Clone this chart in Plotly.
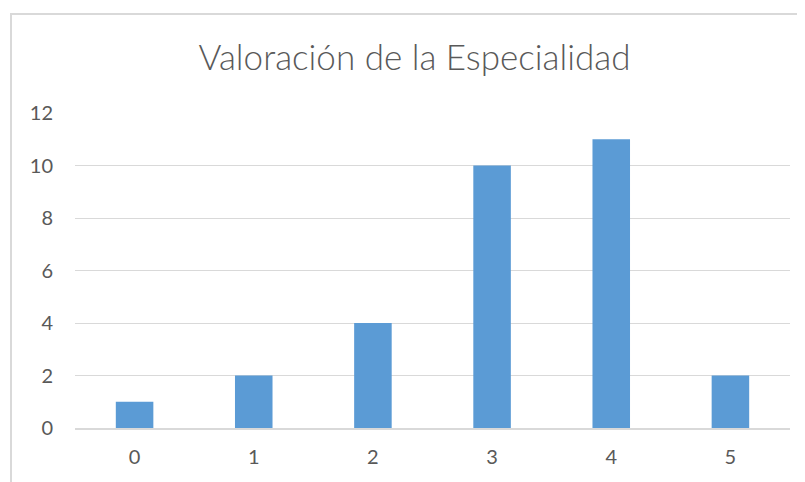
import plotly.graph_objects as go

categories = ["0", "1", "2", "3", "4", "5"]
values = [1, 2, 4, 10, 11, 2]
y_ticks = [0, 2, 4, 6, 8, 10, 12]
title_text = "Valoración de la Especialidad"

W, H = 805, 482
OFF = 8  # page body margin offset
L, T = 75 - OFF, 113 - OFF
pw, ph = 715, 315
R = W - L - pw
B = H - T - ph

def px_x(x):
    return (x - OFF - L) / pw

def px_y(y):
    return (T + ph - (y - OFF)) / ph

fig = go.Figure()
fig.add_trace(go.Bar(x=categories, y=values, marker=dict(color="#5B9BD5", line=dict(width=0))))

fig.update_layout(
    width=W, height=H,
    margin=dict(l=L, r=R, t=T, b=B, autoexpand=False),
    paper_bgcolor="white", plot_bgcolor="white",
    bargap=0.685,
    showlegend=False,
    font=dict(family="Lato, Carlito, sans-serif", color="#595959"),
    title=dict(text=title_text, x=(414.5 - OFF) / W, xanchor="center", y=1 - (58 - OFF) / H, yanchor="middle",
               automargin=False,
               font=dict(size=35, color="#595959", family="Lato, sans-serif", weight=300)),
    xaxis=dict(type="category", showgrid=False, showline=True, linecolor="#d9d9d9", linewidth=1.5,
               automargin=False,
               ticks="", tickfont=dict(size=20, color="#595959"), ticklabelstandoff=10),
    yaxis=dict(range=[0, 12], tickvals=y_ticks, showgrid=True, gridcolor="#d9d9d9", gridwidth=1,
               automargin=False,
               zeroline=False, showline=False, ticks="", tickfont=dict(size=20, color="#595959"),
               ticklabelstandoff=21),
    shapes=[dict(type="path", xref="paper", yref="paper",
                 path=f"M {px_x(11)} {px_y(H+20)} L {px_x(11)} {px_y(14)} L {px_x(W+20)} {px_y(14)}",
                 line=dict(color="#d9d9d9", width=2))],
)

fig.write_html("out.html")
